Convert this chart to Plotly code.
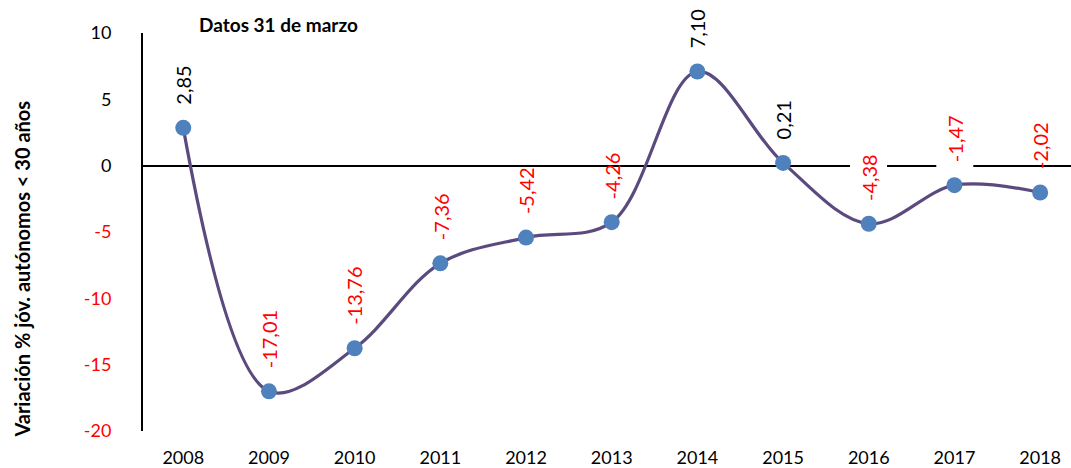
import plotly.graph_objects as go

years = [2008, 2009, 2010, 2011, 2012, 2013, 2014, 2015, 2016, 2017, 2018]
values = [2.85, -17.01, -13.76, -7.36, -5.42, -4.26, 7.10, 0.21, -4.38, -1.47, -2.02]
y_ticks = [10, 5, 0, -5, -10, -15, -20]
title_text = "Datos 31 de marzo"
y_title = "Variación % jóv. autónomos < 30 años"
boxed_years = [2016, 2017]  # labels drawn on a white box over the zero line

FONT = "Lato, 'Open Sans', sans-serif"
RED = "#FF0000"

W, H = 1071, 468
L, R, T, B = 143, 0, 33, 33
pw, ph = W - L - R, H - T - B


def px_to_paper(px, py):
    """Pixel position (from top-left of the page) to paper coordinates."""
    return (px - L) / pw, (H - py - B) / ph


fig = go.Figure()
fig.add_trace(go.Scatter(
    x=years, y=values,
    mode="lines+markers",
    line=dict(color="#5B4A7E", width=3.2, shape="spline", smoothing=1),
    marker=dict(color="#4F81BD", size=16),
    hoverinfo="skip",
))


def fmt(v):
    return f"{v:.2f}".replace(".", ",")


for yr, v in zip(years, values):
    boxed = yr in boxed_years
    fig.add_annotation(
        x=yr, y=v, xref="x", yref="y",
        text=fmt(v), showarrow=False, textangle=-90,
        xanchor="center", yanchor="bottom",
        yshift=16 if boxed else 21,
        bgcolor="white" if boxed else "rgba(0,0,0,0)",
        borderpad=6 if boxed else 1,
        font=dict(family=FONT, size=20, color=RED if v < 0 else "black"),
    )

tx, ty = px_to_paper(278, 24)
fig.add_annotation(
    x=tx, y=ty, xref="paper", yref="paper",
    xanchor="center", yanchor="middle",
    text=f"<b>{title_text}</b>", showarrow=False,
    font=dict(family=FONT, size=19, color="black"),
)
ax, ay = px_to_paper(22, 272)
fig.add_annotation(
    x=ax, y=ay, xref="paper", yref="paper",
    xanchor="center", yanchor="middle",
    text=f"<b>{y_title}</b>", showarrow=False, textangle=-90,
    font=dict(family=FONT, size=20, color="black"),
)

tick_text = [f'<span style="color:{RED if t < 0 else "black"}">{t}</span>' for t in y_ticks]

fig.update_layout(
    width=W, height=H,
    margin=dict(l=L, r=R, t=T, b=B, pad=0),
    paper_bgcolor="white", plot_bgcolor="white",
    showlegend=False,
    font=dict(family=FONT, color="black"),
    xaxis=dict(
        range=[2007.53, 2018.36],
        tickvals=years, ticktext=[str(y) for y in years],
        showgrid=False, zeroline=False, showline=False,
        ticks="", ticklabelstandoff=14,
        tickfont=dict(family=FONT, size=18, color="black"),
    ),
    yaxis=dict(
        range=[-20, 10],
        tickvals=y_ticks, ticktext=tick_text,
        showgrid=False,
        zeroline=True, zerolinecolor="black", zerolinewidth=2,
        showline=True, linecolor="black", linewidth=2,
        ticks="", ticklabelstandoff=26,
        tickfont=dict(family=FONT, size=18, color="black"),
    ),
)

fig.write_html("out.html")
